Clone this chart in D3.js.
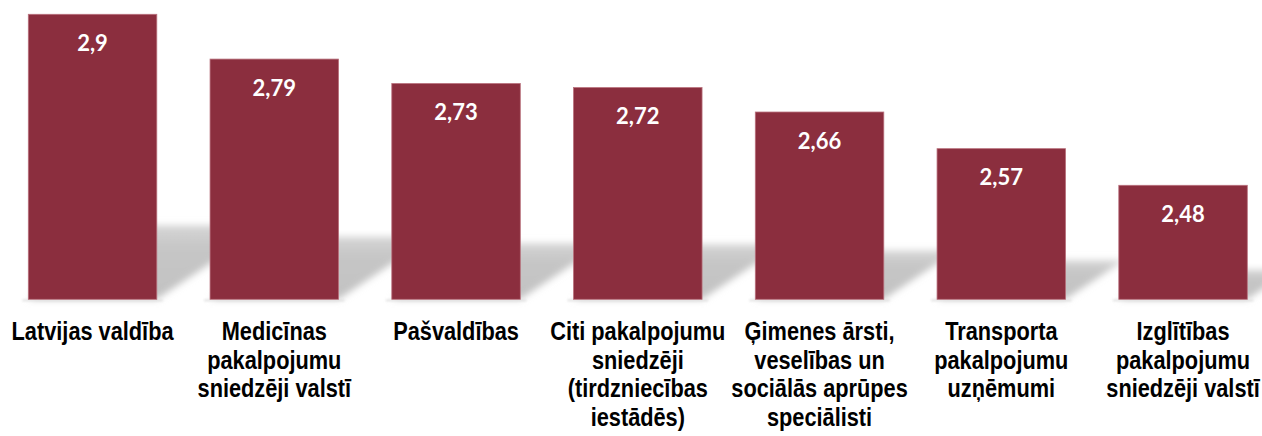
<!DOCTYPE html>
<html>
<head>
<meta charset="utf-8">
<script src="https://cdn.jsdelivr.net/npm/d3@7"></script>
<style>
  html, body { margin: 0; padding: 0; background: #fff; }
  svg { display: block; }
</style>
</head>
<body>
<svg id="chart" width="1262" height="436"></svg>
<script>
const categories = [
  "Latvijas valdība",
  "Medicīnas\npakalpojumu\nsniedzēji valstī",
  "Pašvaldības",
  "Citi pakalpojumu\nsniedzēji\n(tirdzniecības\niestādēs)",
  "Ģimenes ārsti,\nveselības un\nsociālās aprūpes\nspeciālisti",
  "Transporta\npakalpojumu\nuzņēmumi",
  "Izglītības\npakalpojumu\nsniedzēji valstī"
];
const values = [2.9, 2.79, 2.73, 2.72, 2.66, 2.57, 2.48];
const valueLabels = ["2,9", "2,79", "2,73", "2,72", "2,66", "2,57", "2,48"];
const yDomain = [2.2, 2.9];

const W = 1262, H = 436;
const svg = d3.select("#chart");

const baseY = 299.3, topY = 14.3;
const step = 181.73, pad = 0.293;
const x = d3.scaleBand()
  .domain(categories)
  .range([28.3 - step * pad / 2, 1247.3 + step * pad / 2])
  .paddingInner(pad)
  .paddingOuter(pad / 2);
const y = d3.scaleLinear().domain(yDomain).range([baseY, topY]);

const defs = svg.append("defs");
defs.append("filter").attr("id", "blur").attr("x", "-20%").attr("y", "-50%").attr("width", "140%").attr("height", "200%")
  .append("feGaussianBlur").attr("stdDeviation", 3.5);
defs.append("filter").attr("id", "blur2").attr("x", "-20%").attr("y", "-200%").attr("width", "140%").attr("height", "500%")
  .append("feGaussianBlur").attr("stdDeviation", 1);
const grad = defs.append("linearGradient").attr("id", "shgrad").attr("x1", 0).attr("y1", 0).attr("x2", 0).attr("y2", 1);
grad.append("stop").attr("offset", "0%").attr("stop-color", "#d6d6d6");
grad.append("stop").attr("offset", "30%").attr("stop-color", "#c6c6c6");
grad.append("stop").attr("offset", "100%").attr("stop-color", "#c2c2c2");

const data = categories.map((c, i) => ({c, v: values[i], lab: valueLabels[i]}));

// perspective shadows
svg.append("g").selectAll("path").data(data).join("path")
  .attr("d", d => {
    const h = (baseY - y(d.v)) * 0.26;
    const sh = h * 1.5;
    const l = x(d.c), r = x(d.c) + x.bandwidth();
    return `M${l},${baseY} L${r},${baseY} L${r + sh},${baseY - h} L${l + sh},${baseY - h} Z`;
  })
  .attr("fill", "url(#shgrad)")
  .attr("filter", "url(#blur)");

// soft bottom shadow
svg.append("g").selectAll("rect").data(data).join("rect")
  .attr("x", d => x(d.c) - 6)
  .attr("y", baseY)
  .attr("width", x.bandwidth() + 12)
  .attr("height", 2)
  .attr("fill", "#e2e2e2")
  .attr("filter", "url(#blur2)");

// bars
svg.append("g").selectAll("rect").data(data).join("rect")
  .attr("x", d => x(d.c))
  .attr("y", d => y(d.v))
  .attr("width", x.bandwidth())
  .attr("height", d => baseY - y(d.v))
  .attr("fill", "#8b2e3e")
  .attr("stroke", "#b8707c")
  .attr("stroke-width", 0.8);

// value labels
svg.append("g").selectAll("text").data(data).join("text")
  .attr("x", d => x(d.c) + x.bandwidth() / 2)
  .attr("y", d => y(d.v) + 36.6)
  .attr("text-anchor", "middle")
  .attr("fill", "#ffffff")
  .attr("font-family", "Lato, 'Open Sans', sans-serif")
  .attr("font-weight", "bold")
  .attr("font-size", 22)
  .text(d => d.lab);

// category labels (condensed bold sans)
const sx = 0.87;
const lg = svg.append("g");
data.forEach(d => {
  const cx = x(d.c) + x.bandwidth() / 2;
  const t = lg.append("text")
    .attr("transform", `translate(${cx},0) scale(${sx},1)`)
    .attr("text-anchor", "middle")
    .attr("font-family", "'Liberation Sans Narrow', 'Arial Narrow', 'Liberation Sans', Arial, sans-serif")
    .attr("font-weight", "bold")
    .attr("font-size", 25)
    .attr("fill", "#000");
  d.c.split("\n").forEach((line, j) => {
    t.append("tspan")
      .attr("x", 0)
      .attr("y", 340.5 + j * 28.4)
      .text(line);
  });
});
</script>
</body>
</html>
